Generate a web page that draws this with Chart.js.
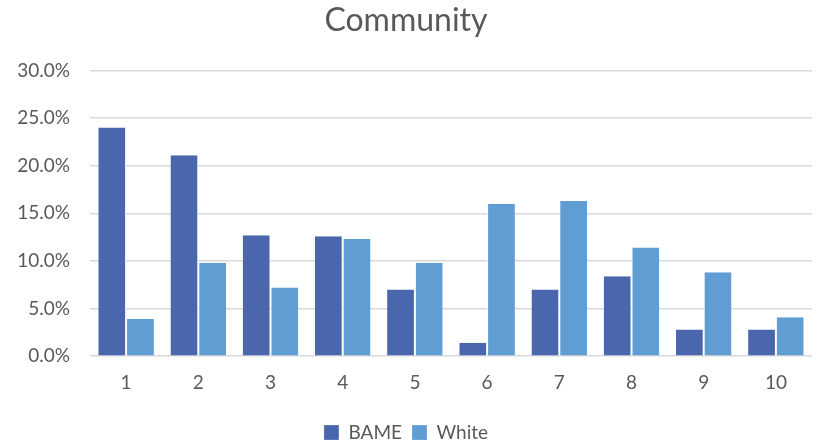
<!DOCTYPE html>
<html>
<head>
<meta charset="utf-8">
<script src="https://cdn.jsdelivr.net/npm/chart.js@4"></script>
<style>
    html, body { margin: 0; padding: 0; background: #fff; }
    #wrap { width: 820px; height: 447px; }
</style>
</head>
<body>
<div id="wrap"><canvas id="community-chart"></canvas></div>
<script>
const categories = ["1", "2", "3", "4", "5", "6", "7", "8", "9", "10"];
const bameValues = [24.0, 21.1, 12.7, 12.6, 7.0, 1.4, 7.0, 8.4, 2.8, 2.8];
const whiteValues = [3.9, 9.8, 7.2, 12.3, 9.8, 16.0, 16.3, 11.4, 8.8, 4.1];
const yTicks = [0, 5, 10, 15, 20, 25, 30];

const textColor = "#595959";
const fontFamily = "Lato, 'Open Sans', sans-serif";

const initChart = () => {
    const ctx = document.querySelector("#community-chart");

    const data = {
        labels: categories,
        datasets: [
            {
                label: "BAME",
                data: bameValues,
                backgroundColor: "#4a66ac",
                borderColor: "#ffffff",
                borderWidth: { left: 0, right: 1, top: 0, bottom: 0 },
            },
            {
                label: "White",
                data: whiteValues,
                backgroundColor: "#5f9dd3",
                borderColor: "#ffffff",
                borderWidth: { left: 1, right: 0, top: 0, bottom: 0 },
            },
        ],
    };

    return new Chart(ctx, {
        type: "bar",
        data: data,
        options: {
            responsive: true,
            maintainAspectRatio: false,
            animation: false,
            layout: {
                padding: { left: 0, right: 8, top: 0, bottom: -5 },
            },
            datasets: {
                bar: {
                    barPercentage: 1,
                    categoryPercentage: 0.77,
                },
            },
            scales: {
                x: {
                    grid: { display: false, drawTicks: false },
                    border: { display: false },
                    afterFit: (scale) => {
                        scale.height += 4;
                    },
                    ticks: {
                        color: textColor,
                        font: { family: fontFamily, size: 19 },
                        padding: 15,
                    },
                },
                y: {
                    min: 0,
                    max: 30,
                    afterBuildTicks: (scale) => {
                        scale.ticks = yTicks.map((v) => ({ value: v }));
                    },
                    afterFit: (scale) => {
                        scale.width = 90;
                    },
                    grid: {
                        color: "#d9d9d9",
                        lineWidth: 1.5,
                        drawTicks: false,
                    },
                    border: { display: false },
                    ticks: {
                        color: textColor,
                        font: { family: fontFamily, size: 19 },
                        padding: 20,
                        callback: (value) => value.toFixed(1) + "%",
                    },
                },
            },
            plugins: {
                title: {
                    display: true,
                    text: "Community",
                    color: textColor,
                    font: { family: fontFamily, size: 32, weight: "normal" },
                    padding: { top: 1, bottom: 31 },
                },
                legend: {
                    position: "bottom",
                    labels: {
                        color: textColor,
                        font: { family: fontFamily, size: 19 },
                        boxWidth: 15,
                        boxHeight: 15,
                        padding: 10,
                    },
                },
                tooltip: { enabled: false },
            },
        },
    });
};

window.communityChart = initChart();
</script>
</body>
</html>
